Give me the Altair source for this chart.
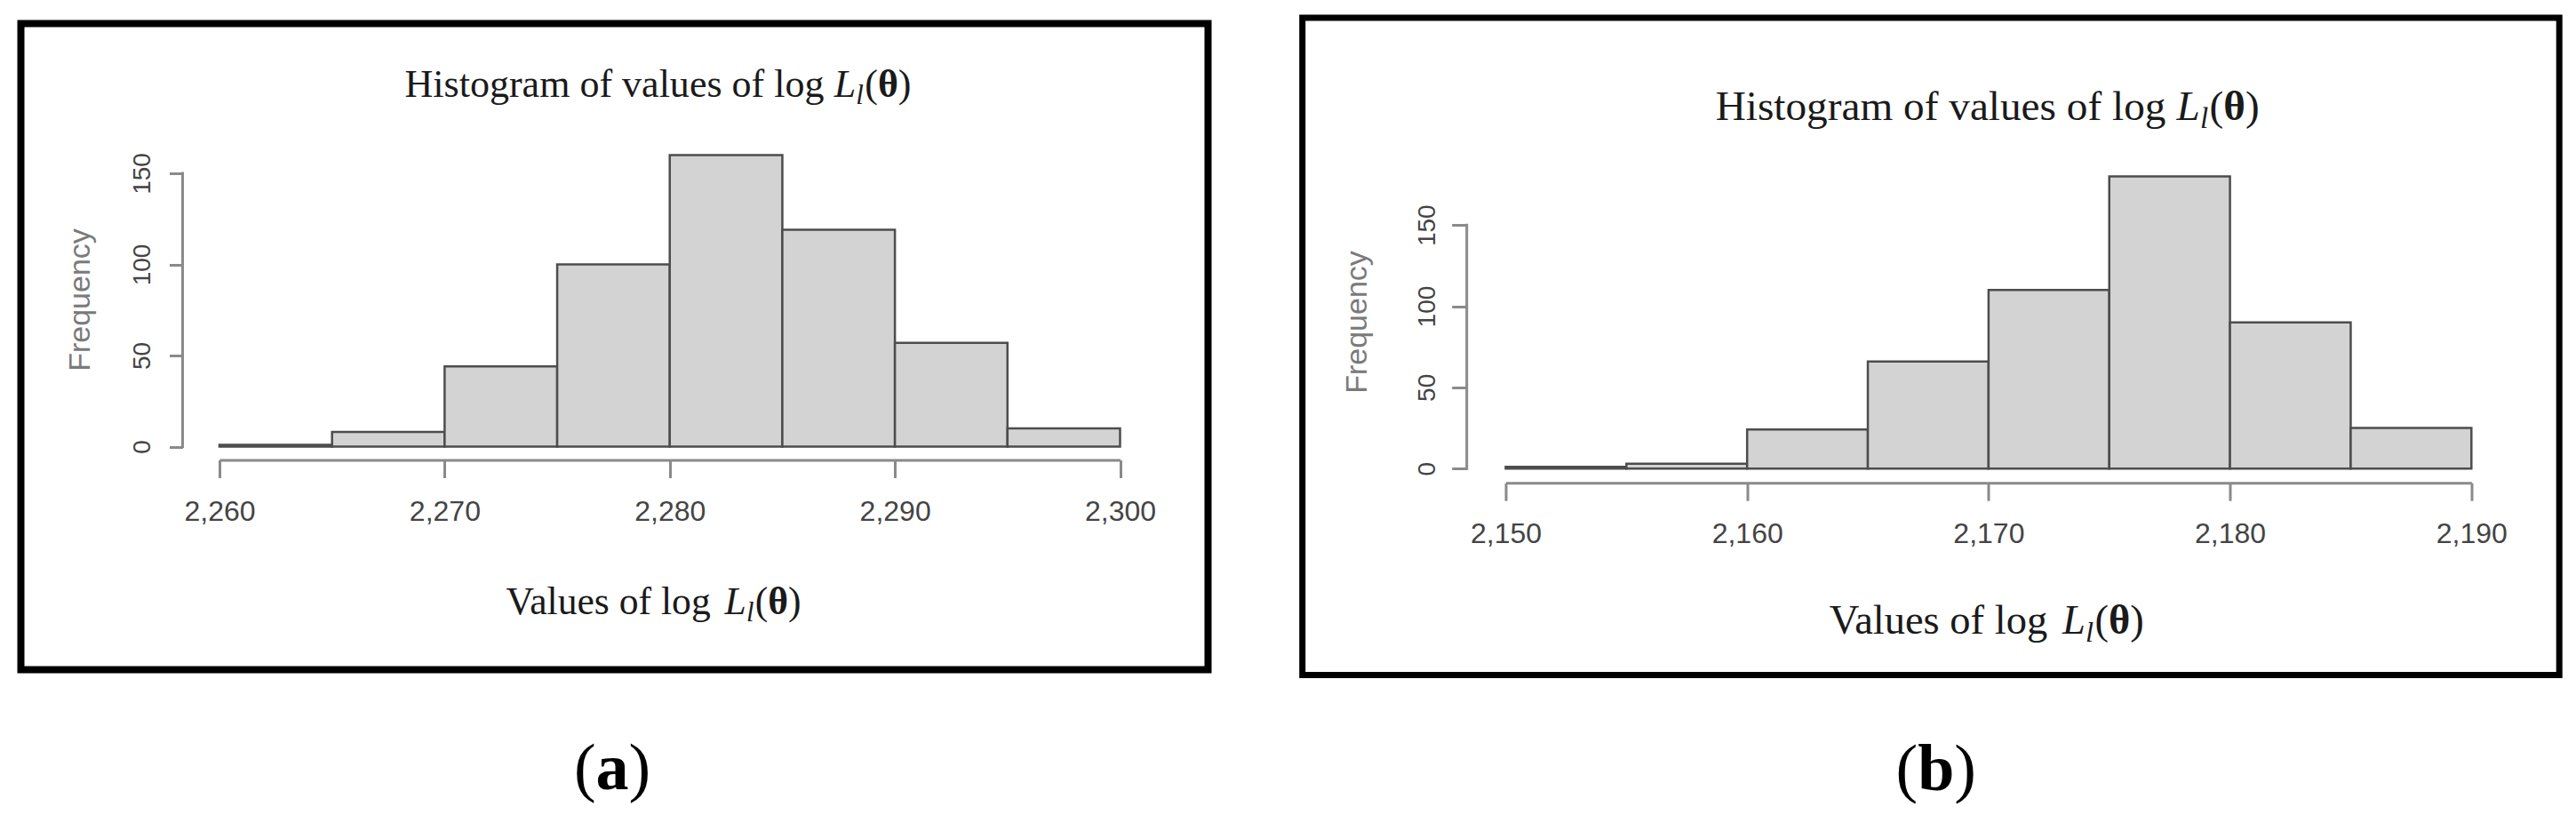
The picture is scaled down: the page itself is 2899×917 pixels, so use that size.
import altair as alt
import pandas as pd

# ---------------- data ----------------
BIN_WIDTH = 5
a_bin_starts = [2260, 2265, 2270, 2275, 2280, 2285, 2290, 2295]
a_counts = [1, 8, 44, 100, 160, 119, 57, 10]
a_xticks = [2260, 2270, 2280, 2290, 2300]

b_bin_starts = [2150, 2155, 2160, 2165, 2170, 2175, 2180, 2185]
b_counts = [1, 3, 24, 66, 110, 180, 90, 25]
b_xticks = [2150, 2160, 2170, 2180, 2190]

y_ticks = [0, 50, 100, 150]

title_prefix = "Histogram of values of log "
xlabel_prefix = "Values of log "
ylabel = "Frequency"
panel_letters = ["a", "b"]

# ---------------- styling / layout (page pixels) ----------------
SERIF = "Liberation Serif"
SANS = "Liberation Sans"
ONE = pd.DataFrame({"k": [0]})
COMMON_TOP = 194.5   # page y where both plot areas start

# Times-compatible advance widths (1/1000 em)
TIMES = {"H": 722, "i": 278, "s": 389, "t": 278, "o": 500, "g": 500, "r": 333,
         "a": 444, "m": 778, " ": 250, "f": 333, "v": 500, "l": 278, "u": 500,
         "e": 444, "V": 722}
L_W, SUBL_W, SUB_SCALE, PAR_W, TH_W = 0.56, 0.278, 0.7, 0.333, 0.52


def text_w(s):
    return sum(TIMES.get(c, 500) for c in s) / 1000.0


LAYOUT_A = dict(
    plot_left=246.5, plot_right=1260.0, y150=194.5, plot_bottom=502.0,
    box=(19, 22, 1363, 757), box_sw=8, bound=(19, 16, 1363, 757),
    xaxis_y=517.0, xtick_len=20, xlabel_base=585.0,
    yaxis_x=205.0, ytick_len=15, ylabel_base=168.0,
    title=(455, 108, 570), xtitle=(569, 690, 332),
    freq=(100, 337), caption=(688.6, 887),
)
LAYOUT_B = dict(
    plot_left=1692.8, plot_right=2779.6, y150=252.7, plot_bottom=526.7,
    box=(1460.5, 16, 2882, 762.5), box_sw=7, bound=None,
    xaxis_y=542.7, xtick_len=20, xlabel_base=610.0,
    yaxis_x=1649.0, ytick_len=17, ylabel_base=1613.0,
    title=(1929, 134, 612), xtitle=(2057, 712, 354),
    freq=(1536, 362), caption=(2177, 888),
)

AXIS_GRAY = "#8a8a8a"


def txt(text, x, y, size, color="#1a1a1a", font=SERIF, style="normal",
        weight="normal", align="left", angle=0):
    return alt.Chart(ONE).mark_text(
        text=text, align=align, baseline="alphabetic", font=font,
        fontSize=size, fontStyle=style, fontWeight=weight, color=color,
        angle=angle,
    ).encode(x=alt.value(x), y=alt.value(y))


def math_label(prefix, left, baseline, width, ox, oy):
    total = text_w(prefix) + L_W + SUB_SCALE * SUBL_W + 0.03 + 2 * PAR_W + TH_W
    s = width / total
    x = left - ox
    y = baseline - oy
    out = [txt(prefix, x, y, s)]
    x += text_w(prefix) * s
    out.append(txt("L", x, y, s, style="italic"))
    x += L_W * s
    out.append(txt("l", x, y + 0.2 * s, s * SUB_SCALE, style="italic"))
    x += (SUB_SCALE * SUBL_W + 0.03) * s
    out.append(txt("(", x, y, s))
    x += PAR_W * s
    out.append(txt("θ", x, y, s, weight="bold"))
    x += TH_W * s
    out.append(txt(")", x, y, s))
    return out


def caption(letter, cx, baseline, ox, oy, size=74):
    lw = 0.5 if letter == "a" else 0.556
    x = cx - ox - (2 * PAR_W + lw) * size / 2
    y = baseline - oy
    return [
        txt("(", x, y, size, color="#000"),
        txt(letter, x + PAR_W * size, y, size, color="#000", weight="bold"),
        txt(")", x + (PAR_W + lw) * size, y, size, color="#000"),
    ]


def build_panel(starts, counts, xticks, L, letter):
    ox, oy = L["plot_left"], COMMON_TOP
    W = L["plot_right"] - ox
    H = L["plot_bottom"] - oy
    # top of the y scale so that 150 lands where the reference draws it
    y_top = y_ticks[-1] * (L["plot_bottom"] - oy) / (L["plot_bottom"] - L["y150"])
    yscale = alt.Scale(domain=[0, y_top], nice=False, zero=True)

    df = pd.DataFrame({
        "lo": starts,
        "hi": [s + BIN_WIDTH for s in starts],
        "count": counts,
    })
    df["base"] = 0

    x_axis = alt.Axis(
        values=xticks, format=",d", orient="bottom",
        offset=L["xaxis_y"] - L["plot_bottom"], tickSize=L["xtick_len"],
        labelPadding=L["xlabel_base"] - L["xaxis_y"] - L["xtick_len"],
        labelBaseline="alphabetic", labelFont=SANS, labelFontSize=32,
        labelColor="#444444", domainColor=AXIS_GRAY, domainWidth=3,
        tickColor=AXIS_GRAY, tickWidth=3, grid=False, title=None,
        labelFlush=False, labelOverlap=False,
    )
    y_axis = alt.Axis(
        values=y_ticks, orient="left", offset=ox - L["yaxis_x"],
        tickSize=L["ytick_len"], labelAngle=270, labelAlign="center",
        labelBaseline="alphabetic",
        labelPadding=L["yaxis_x"] - L["ytick_len"] - L["ylabel_base"],
        labelFont=SANS, labelFontSize=28, labelColor="#444444",
        domain=False, tickColor=AXIS_GRAY, tickWidth=3, grid=False,
        title=None, labelFlush=False, labelOverlap=False,
    )

    bars = alt.Chart(df).mark_rect(
        fill="#d3d3d3", stroke="#4d4d4d", strokeWidth=2.5
    ).encode(
        x=alt.X("lo:Q", scale=alt.Scale(domain=[xticks[0], xticks[-1]],
                                         nice=False, zero=False), axis=x_axis),
        x2="hi:Q",
        y=alt.Y("count:Q", scale=yscale, axis=y_axis),
        y2="base:Q",
    )

    # y axis line from first to last tick (R style)
    yline_df = pd.DataFrame({"count": [y_ticks[0]], "top": [y_ticks[-1]]})
    yline = alt.Chart(yline_df).mark_rule(
        color=AXIS_GRAY, strokeWidth=3, strokeCap="square"
    ).encode(
        x=alt.value(L["yaxis_x"] - ox),
        y=alt.Y("count:Q", scale=yscale, axis=y_axis),
        y2="top:Q",
    )

    layers = []
    if L["bound"] is not None:
        bx1, by1, bx2, by2 = L["bound"]
        layers.append(alt.Chart(ONE).mark_rect(opacity=0).encode(
            x=alt.value(bx1 - ox), x2=alt.value(bx2 - ox),
            y=alt.value(by1 - oy), y2=alt.value(by2 - oy)))
    x1, y1, x2, y2 = L["box"]
    h = L["box_sw"] / 2.0
    layers.append(alt.Chart(ONE).mark_rect(
        fill="transparent", stroke="black", strokeWidth=L["box_sw"]
    ).encode(
        x=alt.value(x1 + h - ox), x2=alt.value(x2 - h - ox),
        y=alt.value(y1 + h - oy), y2=alt.value(y2 - h - oy)))
    layers.append(bars)
    layers.append(yline)
    layers += math_label(title_prefix, *L["title"], ox, oy)
    layers += math_label(xlabel_prefix, *L["xtitle"], ox, oy)
    fx, fy = L["freq"]
    layers.append(txt(ylabel, fx - ox, fy - oy, 34, color="#7a7a7a",
                      font=SANS, align="center", angle=270))
    cx, cb = L["caption"]
    layers += caption(letter, cx, cb, ox, oy)

    return alt.layer(*layers).properties(width=W, height=H)


panel_a = build_panel(a_bin_starts, a_counts, a_xticks, LAYOUT_A, panel_letters[0])
panel_b = build_panel(b_bin_starts, b_counts, b_xticks, LAYOUT_B, panel_letters[1])

spacing = LAYOUT_B["box"][0] - LAYOUT_A["box"][2]

chart = alt.hconcat(
    panel_a, panel_b, spacing=spacing,
    padding={"left": 11, "top": 8, "right": 0, "bottom": 0},
).resolve_scale(x="independent", y="independent").configure_view(
    stroke="transparent", strokeWidth=0
)

chart.save("out.html", embed_options={"renderer": "svg", "actions": False})
